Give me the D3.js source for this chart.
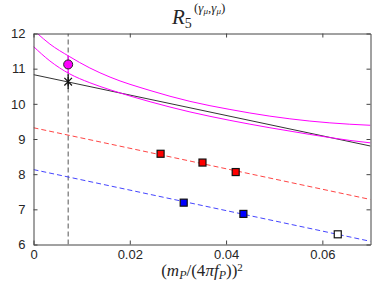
<!DOCTYPE html>
<html>
<meta charset=utf-8>
<head>
<script src="https://d3js.org/d3.v7.min.js"></script>
<style>
  body { margin: 0; background: #fff; }
  .tick text { font: 13px "Liberation Sans", Arial, sans-serif; fill: #262626; }
  .mathtxt { font-family: "Liberation Serif", "Times New Roman", serif; fill: #262626; }
</style>
</head>
<body>
<script>

// axis ticks
var xTicks = [0, 0.02, 0.04, 0.06];
var yTicks = [6, 7, 8, 9, 10, 11, 12];

// physical point (vertical dashed line)
var xPhys = 0.0072;

// lattice data, red and blue ensembles
var redX = [0.0264, 0.0351, 0.0420];
var redY = [8.58, 8.33, 8.06];
var redErr = [0.08, 0.04, 0.04];

var blueX = [0.0312, 0.0436];
var blueY = [7.19, 6.87];
var blueErr = [0.03, 0.03];

var openX = [0.0632];
var openY = [6.29];

// linear fits
var redFit = [[0, 9.32], [0.07, 7.28]];
var blueFit = [[0, 8.13], [0.07, 6.09]];
var blackFit = [[0, 10.83], [0.07, 8.80]];

// magenta band
var bandUpper = [[0.0008, 12.0], [0.0034, 11.70], [0.0074, 11.35], [0.0117, 11.02], [0.0159, 10.76],
                 [0.0242, 10.38], [0.0325, 10.07], [0.0408, 9.84], [0.0491, 9.65], [0.0574, 9.51],
                 [0.0657, 9.42], [0.0700, 9.39]];
var bandLower = [[0, 11.63], [0.0034, 11.22], [0.0074, 10.86], [0.0117, 10.60], [0.0159, 10.40],
                 [0.0242, 10.06], [0.0325, 9.77], [0.0408, 9.53], [0.0491, 9.32], [0.0574, 9.13],
                 [0.0657, 8.96], [0.0700, 8.89]];

// extrapolated values at the physical point
var physCircle = {y: 11.12, err: 0.24};
var physStar = {y: 10.63, err: 0.21};

var W = 382, H = 286;
var svg = d3.select('body').append('svg').attr('width', W).attr('height', H);

var x = d3.scaleLinear().domain([0, 0.07]).range([33.5, 370.5]);
var y = d3.scaleLinear().domain([6, 12]).range([244.5, 33.5]);

svg.append('clipPath').attr('id', 'clip')
  .append('rect').attr('x', x(0)).attr('y', y(12)).attr('width', x(0.07) - x(0)).attr('height', y(6) - y(12));

var plot = svg.append('g').attr('clip-path', 'url(#clip)');

var line = d3.line().x(function(d){ return x(d[0]); }).y(function(d){ return y(d[1]); });
var curve = d3.line().x(function(d){ return x(d[0]); }).y(function(d){ return y(d[1]); }).curve(d3.curveMonotoneX);

// vertical dashed line
plot.append('line')
  .attr('x1', x(xPhys)).attr('x2', x(xPhys)).attr('y1', y(6)).attr('y2', y(12))
  .attr('stroke', '#555').attr('stroke-width', 1).attr('stroke-dasharray', '5,3');

plot.append('path').attr('d', line(redFit)).attr('fill', 'none')
  .attr('stroke', '#ff3030').attr('stroke-width', 0.9).attr('stroke-dasharray', '5,3');
plot.append('path').attr('d', line(blueFit)).attr('fill', 'none')
  .attr('stroke', '#3030ff').attr('stroke-width', 0.9).attr('stroke-dasharray', '5,3');
plot.append('path').attr('d', line(blackFit)).attr('fill', 'none')
  .attr('stroke', '#333').attr('stroke-width', 1);

plot.append('path').attr('d', curve(bandUpper)).attr('fill', 'none')
  .attr('stroke', '#ff00ff').attr('stroke-width', 1);
plot.append('path').attr('d', curve(bandLower)).attr('fill', 'none')
  .attr('stroke', '#ff00ff').attr('stroke-width', 1);

// error bars + squares
function squares(xs, ys, es, fill) {
  xs.forEach(function(xv, i) {
    if (es) {
      plot.append('line').attr('x1', x(xv)).attr('x2', x(xv))
        .attr('y1', y(ys[i] - es[i])).attr('y2', y(ys[i] + es[i]))
        .attr('stroke', fill).attr('stroke-width', 1.2);
    }
    plot.append('rect').attr('x', x(xv) - 3.5).attr('y', y(ys[i]) - 3.5)
      .attr('width', 7).attr('height', 7)
      .attr('fill', fill).attr('stroke', '#111').attr('stroke-width', 1.2);
  });
}
squares(redX, redY, redErr, '#ff0000');
squares(blueX, blueY, blueErr, '#0000ff');
squares(openX, openY, null, '#fff');

// physical point
var px = x(xPhys);
plot.append('line').attr('x1', px).attr('x2', px)
  .attr('y1', y(physCircle.y - physCircle.err)).attr('y2', y(physCircle.y + physCircle.err))
  .attr('stroke', '#ff00ff').attr('stroke-width', 1.2);
plot.append('line').attr('x1', px).attr('x2', px)
  .attr('y1', y(physStar.y - physStar.err)).attr('y2', y(physStar.y + physStar.err))
  .attr('stroke', '#111').attr('stroke-width', 1.2);
plot.append('circle').attr('cx', px).attr('cy', y(physCircle.y)).attr('r', 4.5)
  .attr('fill', '#ff00ff').attr('stroke', '#222').attr('stroke-width', 1);
var sy = y(physStar.y), s = 3.8;
var star = plot.append('g').attr('stroke', '#111').attr('stroke-width', 1.2);
star.append('line').attr('x1', px - s).attr('x2', px + s).attr('y1', sy - s).attr('y2', sy + s);
star.append('line').attr('x1', px - s).attr('x2', px + s).attr('y1', sy + s).attr('y2', sy - s);
star.append('line').attr('x1', px).attr('x2', px).attr('y1', sy - s - 1).attr('y2', sy + s + 1);

// axes, box style with ticks inside
var axisCol = '#444';
function styleAxis(g) {
  g.select('.domain').attr('stroke', axisCol);
  g.selectAll('.tick line').attr('stroke', axisCol);
}
svg.append('g').attr('transform', 'translate(0,' + y(6) + ')')
  .call(d3.axisBottom(x).tickValues(xTicks).tickSizeInner(-4).tickSizeOuter(0).tickPadding(5)
    .tickFormat(function(d){ return d === 0 ? '0' : d3.format('.2f')(d); }))
  .call(styleAxis);
svg.append('g').attr('transform', 'translate(0,' + y(12) + ')')
  .call(d3.axisTop(x).tickValues(xTicks).tickSizeInner(-4).tickSizeOuter(0).tickFormat(''))
  .call(styleAxis);
svg.append('g').attr('transform', 'translate(' + x(0) + ',0)')
  .call(d3.axisLeft(y).tickValues(yTicks).tickSizeInner(-4).tickSizeOuter(0).tickPadding(8)
    .tickFormat(d3.format('d')))
  .call(styleAxis);
svg.append('g').attr('transform', 'translate(' + x(0.07) + ',0)')
  .call(d3.axisRight(y).tickValues(yTicks).tickSizeInner(-4).tickSizeOuter(0).tickFormat(''))
  .call(styleAxis);

// title R_5^{(γμ,γμ)}
var t = svg.append('text').attr('class', 'mathtxt').attr('x', 172).attr('y', 24);
t.append('tspan').attr('font-size', 21).attr('font-style', 'italic').text('R');
t.append('tspan').attr('font-size', 14).attr('dy', 4).text('5');
var sup = svg.append('text').attr('class', 'mathtxt').attr('x', 194).attr('y', 12).attr('font-size', 13);
sup.append('tspan').text('(');
sup.append('tspan').attr('font-style', 'italic').text('γ');
sup.append('tspan').attr('font-style', 'italic').attr('font-size', 9).attr('dy', 2).text('μ');
sup.append('tspan').attr('dy', -2).text(',');
sup.append('tspan').attr('font-style', 'italic').text('γ');
sup.append('tspan').attr('font-style', 'italic').attr('font-size', 9).attr('dy', 2).text('μ');
sup.append('tspan').attr('dy', -2).text(')');

// x label (m_P/(4π f_P))^2
var xl = svg.append('text').attr('class', 'mathtxt').attr('x', 202).attr('y', 276)
  .attr('font-size', 17).attr('text-anchor', 'middle');
xl.append('tspan').text('(');
xl.append('tspan').attr('font-style', 'italic').text('m');
xl.append('tspan').attr('font-style', 'italic').attr('font-size', 12).attr('dy', 3).text('P');
xl.append('tspan').attr('dy', -3).text('/(4');
xl.append('tspan').attr('font-style', 'italic').text('πf');
xl.append('tspan').attr('font-style', 'italic').attr('font-size', 12).attr('dy', 3).text('P');
xl.append('tspan').attr('dy', -3).text('))');
xl.append('tspan').attr('font-size', 11).attr('dy', -5).text('2');

</script>
</body>
</html>
